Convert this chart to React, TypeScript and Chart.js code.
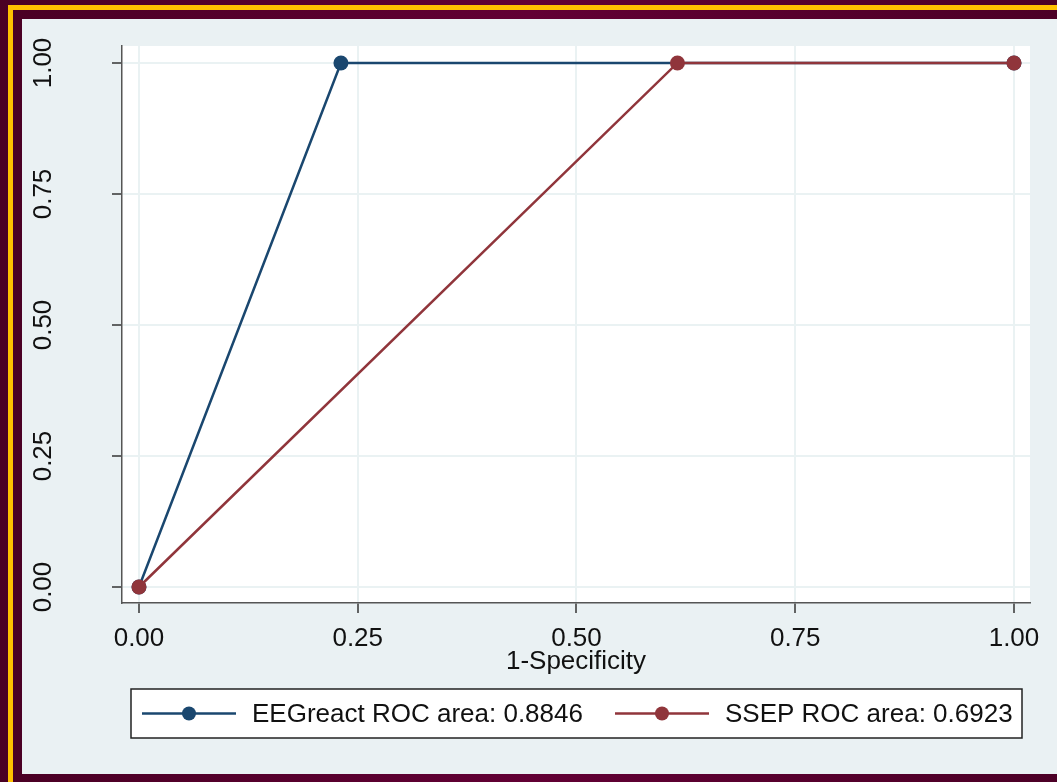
import React, { useEffect, useRef } from "react";
import { Chart, registerables } from "chart.js";

Chart.register(...registerables);

const eegX = [0, 0.2308, 1];
const eegY = [0, 1, 1];
const ssepX = [0, 0.6154, 1];
const ssepY = [0, 1, 1];
const tickValues = [0, 0.25, 0.5, 0.75, 1];
const seriesLabels = ["EEGreact ROC area: 0.8846", "SSEP ROC area: 0.6923"];
const xTitle = "1-Specificity";

const NAVY = "#1a476f";
const MAROON = "#90353b";
const PANEL = "#eaf1f3";
const GRID = "#eaf2f3";
const FONT = "'Liberation Sans', Arial, sans-serif";

const framePlugin = {
  id: "frame",
  beforeDraw(chart: any) {
    const { ctx, width, height, chartArea } = chart;
    ctx.save();
    const g = ctx.createLinearGradient(0, 0, width, 0);
    g.addColorStop(0, "#4a0024");
    g.addColorStop(0.5, "#620034");
    g.addColorStop(1, "#4c0026");
    ctx.fillStyle = g;
    ctx.fillRect(0, 0, width, height);
    ctx.fillStyle = "#ffc000";
    ctx.fillRect(8, 5, width - 8, height - 5);
    ctx.fillStyle = g;
    ctx.fillRect(13, 10, width - 13, height - 10);
    ctx.fillStyle = PANEL;
    ctx.fillRect(22, 19, width - 22, 774 - 19);
    ctx.fillStyle = "#ffffff";
    ctx.fillRect(chartArea.left, chartArea.top, chartArea.right - chartArea.left, chartArea.bottom - chartArea.top);
    ctx.restore();
  },
  afterDraw(chart: any) {
    const { ctx, chartArea } = chart;
    const yScale = chart.scales.y;
    ctx.save();
    // y tick labels, rotated
    ctx.font = `26px ${FONT}`;
    ctx.fillStyle = "#111";
    ctx.textAlign = "center";
    ctx.textBaseline = "alphabetic";
    for (const t of yScale.ticks) {
      const py = yScale.getPixelForValue(t.value);
      ctx.save();
      ctx.translate(51, py);
      ctx.rotate(-Math.PI / 2);
      ctx.fillText(Number(t.value).toFixed(2), 0, 0);
      ctx.restore();
    }
    // legend box
    const bx = chartArea.left + 9;
    const bw = chartArea.right - 8 - bx;
    const by = 689;
    const bh = 49;
    ctx.fillStyle = "#ffffff";
    ctx.fillRect(bx, by, bw, bh);
    ctx.strokeStyle = "#222";
    ctx.lineWidth = 1.5;
    ctx.strokeRect(bx, by, bw, bh);
    const cy = by + bh / 2;
    const items = [
      { color: NAVY, lx: bx + 11, tx: bx + 121, label: seriesLabels[0] },
      { color: MAROON, lx: bx + 484, tx: bx + 594, label: seriesLabels[1] },
    ];
    for (const it of items) {
      ctx.strokeStyle = it.color;
      ctx.lineWidth = 2.5;
      ctx.beginPath();
      ctx.moveTo(it.lx, cy);
      ctx.lineTo(it.lx + 94, cy);
      ctx.stroke();
      ctx.fillStyle = it.color;
      ctx.beginPath();
      ctx.arc(it.lx + 47, cy, 7, 0, Math.PI * 2);
      ctx.fill();
      ctx.fillStyle = "#111";
      ctx.textAlign = "left";
      ctx.textBaseline = "middle";
      ctx.fillText(it.label, it.tx, cy + 1);
    }
    ctx.restore();
  },
};

export default function App() {
  const ref = useRef<HTMLCanvasElement>(null);
  useEffect(() => {
    if (!ref.current) return;
    const chart = new Chart(ref.current, {
      type: "line",
      data: {
        datasets: [
          {
            label: seriesLabels[0],
            data: eegX.map((x, i) => ({ x, y: eegY[i] })),
            borderColor: NAVY,
            backgroundColor: NAVY,
            borderWidth: 2.5,
            pointRadius: 7.5,
            pointBorderWidth: 0,
            pointBackgroundColor: NAVY,
            order: 1,
          },
          {
            label: seriesLabels[1],
            data: ssepX.map((x, i) => ({ x, y: ssepY[i] })),
            borderColor: MAROON,
            backgroundColor: MAROON,
            borderWidth: 2.5,
            pointRadius: 7.5,
            pointBorderWidth: 0,
            pointBackgroundColor: MAROON,
            order: 0,
          },
        ],
      },
      options: {
        animation: false,
        responsive: false,
        events: [],
        layout: { padding: { left: 0, top: 46, right: 27, bottom: 105 } },
        plugins: { legend: { display: false }, tooltip: { enabled: false } },
        scales: {
          x: {
            type: "linear",
            min: -0.0194,
            max: 1.0183,
            afterBuildTicks: (s: any) => {
              s.ticks = tickValues.map((v) => ({ value: v }));
            },
            afterFit: (s: any) => {
              s.height = 74;
            },
            grid: {
              color: GRID,
              lineWidth: 2,
              tickColor: "#333",
              tickWidth: 1.5,
              tickLength: 10,
              drawTicks: true,
            },
            border: { display: true, color: "#555", width: 1.5 },
            ticks: {
              padding: 10,
              color: "#111",
              font: { family: FONT, size: 26 },
              maxRotation: 0,
              autoSkip: false,
              callback: (v: any) => Number(v).toFixed(2),
            },
            title: {
              display: true,
              text: xTitle,
              color: "#111",
              font: { family: FONT, size: 26 },
              padding: { top: 0, bottom: 0 },
            },
          },
          y: {
            type: "linear",
            min: -0.0305,
            max: 1.0324,
            afterBuildTicks: (s: any) => {
              s.ticks = tickValues.map((v) => ({ value: v }));
            },
            afterFit: (s: any) => {
              s.width = 122;
            },
            grid: {
              color: GRID,
              lineWidth: 2,
              tickColor: "#333",
              tickWidth: 1.5,
              tickLength: 10,
              drawTicks: true,
            },
            border: { display: true, color: "#555", width: 1.5 },
            ticks: { display: false },
          },
        },
      },
      plugins: [framePlugin],
    });
    return () => chart.destroy();
  }, []);
  return (
    <div style={{ position: "fixed", left: 0, top: 0, width: 1057, height: 782 }}>
      <canvas ref={ref} width={1057} height={782} style={{ display: "block" }} />
    </div>
  );
}
